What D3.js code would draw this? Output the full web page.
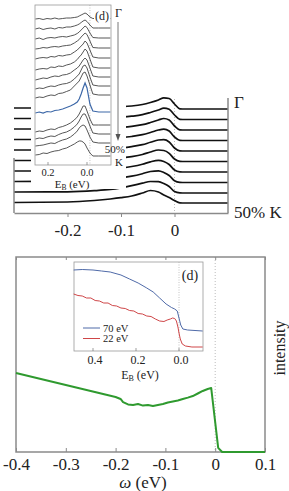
<!DOCTYPE html>
<html><head><meta charset="utf-8">
<script src="https://cdn.jsdelivr.net/npm/d3@7"></script>
<style>
body{margin:0;background:#fff}
svg{display:block}
text{font-family:"Liberation Serif","DejaVu Serif",serif;fill:#222}
</style></head>
<body><svg id="c" width="289" height="491"></svg>
<script>
// ---------------- DATA ----------------
// Top panel: waterfall of model EDCs (Γ -> 50% K)
const topOmega = [-0.30,-0.20,-0.15,-0.12,-0.10,-0.08,-0.06,-0.045,-0.03,-0.02,-0.01,0.0,0.01,0.02,0.1];
const topProfiles = [
  [0,0,0.2,0.7,1.2,2,3.5,5.5,8,10.2,9.5,4,-0.8,-1,-1],
  [0,0,0.3,0.8,1.4,2.3,3.8,6,8.5,10.3,9.2,3.5,-0.8,-1,-1],
  [0,0,0.3,0.9,1.6,2.6,4.3,6.5,9,10.5,9,3,-0.8,-1,-1],
  [0,0,0.4,1,1.8,3,4.8,7,9.5,10.4,8.5,2.5,-0.8,-1,-1],
  [0,0,0.5,1.2,2.1,3.4,5.3,7.7,10,10.3,8,2,-0.8,-1,-1],
  [0,0,0.6,1.4,2.5,3.9,6,8.5,10.5,10,7.2,1.5,-0.8,-1,-1],
  [0,0,0.8,1.7,2.9,4.5,6.8,9.2,10.6,9.5,6.5,1,-0.8,-1,-1],
  [0,0.1,1,2.1,3.5,5.3,7.8,10,10.6,9,6,0.8,-0.8,-1,-1],
  [0,0.2,1.3,2.6,4.2,6.3,8.8,10.5,10.3,8.5,5.5,0.5,-0.8,-1,-1],
  [0,0.5,2,3.5,4.8,6.5,9.5,12,10.5,7.5,5,2,-0.3,-0.5,-0.5]
];
const topOffsets = [105,94.5,84,73.5,63,52.5,42,31.5,21,10.5];
const topTicks = [-0.2,-0.1,0];
const topTickLabels = ["-0.2","-0.1","0"];

// Top inset: measured EDCs
const insetE = [0.265,0.245,0.225,0.205,0.185,0.165,0.145,0.125,0.105,0.085,0.065,0.05,0.04,0.03,0.02,0.01,0.0,-0.015,-0.03,-0.06,-0.12];
const insetCurves = [
  [146,146.5,145.5,146.5,146,147,146,146.5,147,147,147.5,148,149,150,151,152,151,148,146.5,146.5,146.5],
  [136,137,135.5,136.5,137,136,137.5,137,138,138,139,140,141,142.5,144,145,143.5,140,137,137,137],
  [126,127,125.5,127,127.5,127,128,128.5,128,129,130,131.5,133,135,137,139,137.5,132,127.5,127,127],
  [116,116.5,117.5,117,118,118.5,118,119,119.5,120,122,124,125.5,128,130,132,130.5,124,117.5,117,117],
  [106,107,107.5,107,108.5,108,109.5,109,110,110.5,113,115,117,119,121,124,122,115,108,107,107],
  [95,96,96.5,96,98,97.5,99,98.5,100,101,103,105.5,108,110,113,116,114,106,98,97,97],
  [85,86,87,86.5,88,89,88.5,90,90.5,92,95,97,99,102,105,107,105,97,89,88,88],
  [76,77,76.5,78,79,78.5,80,81,81.5,83,86,89,91,95,99,100,97,88,80,79,79],
  [67,68,67.5,69,70,69.5,71.5,72,73.5,75,79,82,84,88,92,93,89,80,71,70,70],
  [52,53,52,53.5,53,54.5,55,56,57.5,59,61,63,66,71,77,82,77,61,54,53,53],
  [33,34,33.5,35,36,35.5,37.5,38.5,40,42,45,48,51,55,59,59,54,46,40,40,40],
  [26,27,26.5,28,29,28.5,30.5,32,33,35,38,41,44,48,51,51,47,39,32,31,31],
  [19,19.5,20,21,22,21.5,23.5,25,26,28,31,34,37,39,40,39,35,28,23,22,22],
  [10,10.5,12,11.5,13,14,14.5,16,17,19,21,23,24,24,23,21,17,12,9,9,9]
];
const insetHighlight = 9;
const insetTicks = [0.2, 0.0];
const insetTickLabels = ["0.2","0.0"];

// Bottom panel: green spectrum
const greenOmega = [-0.40,-0.35,-0.30,-0.25,-0.20,-0.19,-0.185,-0.175,-0.165,-0.155,-0.145,-0.135,-0.125,-0.115,-0.105,-0.095,-0.085,-0.075,-0.065,-0.055,-0.045,-0.035,-0.025,-0.015,-0.008,0.006,0.014,0.1];
const greenIntensity = [0.405,0.374,0.344,0.313,0.282,0.272,0.256,0.244,0.241,0.246,0.238,0.241,0.236,0.241,0.246,0.254,0.259,0.264,0.272,0.279,0.287,0.300,0.313,0.323,0.328,0.021,0.0,0.0];
const bottomTicks = [-0.4,-0.3,-0.2,-0.1,0,0.1];
const bottomTickLabels = ["-0.4","-0.3","-0.2","-0.1","0","0.1"];

// Bottom inset: photon-energy dependence
const e70 = [0.49,0.45,0.40,0.36,0.32,0.27,0.23,0.19,0.15,0.12,0.09,0.06,0.035,0.02,0.008,0.0,-0.008,-0.018,-0.04,-0.11];
const i70 = [81,81.5,81,80,79,76,72,68,63,59,53,47,43.5,42,40,33,26,22,21,20];
const e22 = [0.49,0.47,0.45,0.43,0.41,0.39,0.37,0.35,0.33,0.31,0.29,0.27,0.25,0.23,0.21,0.19,0.17,0.15,0.13,0.11,0.09,0.07,0.055,0.04,0.03,0.02,0.012,0.005,0.0,-0.006,-0.015,-0.03,-0.06,-0.11];
const i22 = [57,55.5,55,53,53,50.5,50,48,48,45.5,45,43,42.5,40.5,40,37.5,37,35,34.5,32,30,29.5,31,32,33,32.5,30,24,18,12,7,5,4,4];
const inset2Ticks = [0.4,0.2,0.0];
const inset2TickLabels = ["0.4","0.2","0.0"];
const legendLabels = ["70 eV","22 eV"];
const legendColors = ["#4f6aa8","#cf4648"];

// ---------------- DRAW ----------------
const FONT = "Liberation Serif, DejaVu Serif, serif";
const svg = d3.select("#c");
const gray = "#8a8a8a";

// ===== Top panel =====
const xT = d3.scaleLinear([-0.3,0.1],[14,228]);
const yT = d3.scaleLinear([0,120],[213,93]);
const lineT = d3.line().x((d,i)=>xT(topOmega[i])).y(d=>yT(d)).curve(d3.curveMonotoneX);

svg.append("line").attr("x1",xT(0)).attr("x2",xT(0)).attr("y1",99).attr("y2",213)
  .attr("stroke","#aaa").attr("stroke-width",0.8).attr("stroke-dasharray","1,2");

topProfiles.forEach((p,k)=>{
  svg.append("path").datum(p.map(v=>v+topOffsets[k])).attr("d",lineT)
    .attr("fill","none").attr("stroke","#111").attr("stroke-width",1.7);
});

const axT = svg.append("g").attr("transform","translate(0,213)")
  .call(d3.axisBottom(xT).tickValues(topTicks).tickSize(4).tickSizeOuter(0).tickFormat((d,i)=>topTickLabels[i]))
  .attr("font-family",FONT).attr("font-size",17);
axT.select(".domain").attr("stroke",gray).attr("stroke-width",1.5);
axT.selectAll(".tick line").attr("stroke",gray);
axT.selectAll(".tick text").attr("dy","0.95em").attr("fill","#222");
svg.append("line").attr("x1",228).attr("x2",228).attr("y1",98).attr("y2",213).attr("stroke",gray).attr("stroke-width",1.5);
svg.append("line").attr("x1",14).attr("x2",14).attr("y1",158).attr("y2",213).attr("stroke",gray).attr("stroke-width",1.5);

svg.append("text").attr("x",234).attr("y",108).attr("font-size",17).text("Γ");
svg.append("text").attr("x",234).attr("y",218).attr("font-size",17).text("50% K");

// ----- Top inset (image-like) -----
svg.append("rect").attr("x",31).attr("y",0).attr("width",95).attr("height",189).attr("fill","#fff");
const xI = d3.scaleLinear([0.2,0.0],[48,87]);
const yI = d3.scaleLinear([0,160],[165,5]);
const lineI = d3.line().x((d,i)=>xI(insetE[i])).y(d=>yI(d));
svg.append("line").attr("x1",xI(-0.015)).attr("x2",xI(-0.015)).attr("y1",5).attr("y2",165)
  .attr("stroke","#aaa").attr("stroke-width",0.7).attr("stroke-dasharray","1,1.5");
insetCurves.forEach((c,k)=>{
  if(k===insetHighlight) return;
  svg.append("path").datum(c).attr("d",lineI).attr("fill","none").attr("stroke","#444").attr("stroke-width",0.9);
});
svg.append("path").datum(insetCurves[insetHighlight]).attr("d",lineI).attr("fill","none").attr("stroke","#3d68a8").attr("stroke-width",1.2);
svg.append("rect").attr("x",35).attr("y",5).attr("width",76).attr("height",160).attr("fill","none").attr("stroke","#999").attr("stroke-width",0.8);
svg.append("rect").attr("x",94).attr("y",6).attr("width",16).attr("height",17).attr("fill","#fff");
svg.append("text").attr("x",102).attr("y",20).attr("font-size",12).attr("text-anchor","middle").text("(d)");
svg.append("text").attr("x",115).attr("y",17).attr("font-size",12).text("Γ");
svg.append("line").attr("x1",118).attr("x2",118).attr("y1",22).attr("y2",136).attr("stroke","#555").attr("stroke-width",0.8);
svg.append("path").attr("d","M115.5,134 L118,141 L120.5,134 Z").attr("fill","#555");
svg.append("text").attr("x",125).attr("y",153).attr("font-size",11).attr("text-anchor","end").text("50%");
svg.append("text").attr("x",115).attr("y",166).attr("font-size",11).text("K");
insetTicks.forEach((t,i)=>{
  svg.append("line").attr("x1",xI(t)).attr("x2",xI(t)).attr("y1",165).attr("y2",162).attr("stroke","#777").attr("stroke-width",0.7);
  svg.append("text").attr("x",xI(t)).attr("y",175.5).attr("font-size",10.5).attr("text-anchor","middle").text(insetTickLabels[i]);
});
const eb1 = svg.append("text").attr("x",72).attr("y",187.5).attr("font-size",11).attr("text-anchor","middle");
eb1.append("tspan").text("E");
eb1.append("tspan").attr("font-size",7.5).attr("dy",2).text("B");
eb1.append("tspan").attr("dy",-2).text(" (eV)");

// ===== Bottom panel =====
const xB = d3.scaleLinear([-0.4,0.1],[16,265]);
const yB = d3.scaleLinear([0,1],[452,257]);
svg.append("line").attr("x1",xB(0)).attr("x2",xB(0)).attr("y1",257).attr("y2",452)
  .attr("stroke","#aaa").attr("stroke-width",0.8).attr("stroke-dasharray","1,2");
svg.append("rect").attr("x",16).attr("y",257).attr("width",249).attr("height",195).attr("fill","none").attr("stroke",gray).attr("stroke-width",1.5);
const axB = svg.append("g").attr("transform","translate(0,452)")
  .call(d3.axisBottom(xB).tickValues(bottomTicks).tickSize(-4).tickSizeOuter(0).tickFormat((d,i)=>bottomTickLabels[i]))
  .attr("font-family",FONT).attr("font-size",17);
axB.select(".domain").remove();
axB.selectAll(".tick line").attr("stroke",gray);
axB.selectAll(".tick text").attr("y",2).attr("dy","0.95em").attr("fill","#222");
const axBt = svg.append("g").attr("transform","translate(0,257)")
  .call(d3.axisTop(xB).tickValues(bottomTicks).tickSize(-3).tickSizeOuter(0).tickFormat(""));
axBt.select(".domain").remove();
axBt.selectAll(".tick line").attr("stroke",gray);

const lineG = d3.line().x((d,i)=>xB(greenOmega[i])).y(d=>yB(d));
svg.append("path").datum(greenIntensity).attr("d",lineG).attr("fill","none").attr("stroke","#2f9a2f").attr("stroke-width",2).attr("stroke-linejoin","round");

const wl = svg.append("text").attr("x",143).attr("y",488).attr("font-size",17).attr("text-anchor","middle");
wl.append("tspan").attr("font-style","italic").text("ω");
wl.append("tspan").text(" (eV)");
svg.append("text").attr("transform","translate(285,348) rotate(-90)").attr("font-size",16).attr("text-anchor","middle").text("intensity");

// ----- Bottom inset -----
const xJ = d3.scaleLinear([0.4,0.0],[93,179]);
const yJ = d3.scaleLinear([0,89],[351,262]);
svg.append("rect").attr("x",74).attr("y",262).attr("width",129).attr("height",89).attr("fill","#fff").attr("stroke","#999").attr("stroke-width",0.8);
svg.append("line").attr("x1",xJ(0)).attr("x2",xJ(0)).attr("y1",262).attr("y2",351)
  .attr("stroke","#aaa").attr("stroke-width",0.7).attr("stroke-dasharray","1,1.5");
svg.append("path").attr("d",d3.line().x((d,i)=>xJ(e70[i])).y(d=>yJ(d))(i70)).attr("fill","none").attr("stroke",legendColors[0]).attr("stroke-width",1);
svg.append("path").attr("d",d3.line().x((d,i)=>xJ(e22[i])).y(d=>yJ(d))(i22)).attr("fill","none").attr("stroke",legendColors[1]).attr("stroke-width",1);
inset2Ticks.forEach((t,i)=>{
  svg.append("line").attr("x1",xJ(t)).attr("x2",xJ(t)).attr("y1",351).attr("y2",348).attr("stroke","#777").attr("stroke-width",0.7);
  svg.append("text").attr("x",xJ(t)+2).attr("y",364).attr("font-size",12).attr("text-anchor","middle").text(inset2TickLabels[i]);
});
const eb2 = svg.append("text").attr("x",140).attr("y",379).attr("font-size",12).attr("text-anchor","middle");
eb2.append("tspan").text("E");
eb2.append("tspan").attr("font-size",8).attr("dy",2).text("B");
eb2.append("tspan").attr("dy",-2).text(" (eV)");
svg.append("text").attr("x",190).attr("y",280).attr("font-size",14).attr("text-anchor","middle").text("(d)");
legendLabels.forEach((l,i)=>{
  const yy = 328 + i*10.5;
  svg.append("line").attr("x1",83).attr("x2",100).attr("y1",yy).attr("y2",yy).attr("stroke",legendColors[i]).attr("stroke-width",1);
  svg.append("text").attr("x",103).attr("y",yy+3.5).attr("font-size",10.5).text(l);
});
</script>
</body></html>
